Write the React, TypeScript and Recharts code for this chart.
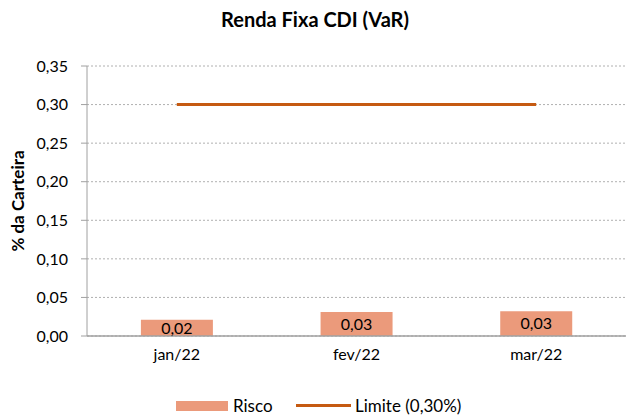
import React from 'react';
import { ComposedChart, Bar, Line, XAxis, YAxis, CartesianGrid, LabelList } from 'recharts';

const categories = ['jan/22', 'fev/22', 'mar/22'];
const risco = [0.021, 0.031, 0.032];
const limite = [0.3, 0.3, 0.3];
const yTicks = [0, 0.05, 0.1, 0.15, 0.2, 0.25, 0.3, 0.35];

const data = categories.map((c, i) => ({ name: c, risco: risco[i], limite: limite[i] }));

const FONT = 'Lato, "Open Sans", sans-serif';
const fmt = (v: number) => v.toFixed(2).replace('.', ',');

export default function App() {
  return (
    <div style={{ position: 'absolute', left: 0, top: 0, width: 626, height: 419, background: '#fff', fontFamily: FONT }}>
      <div style={{ position: 'absolute', left: 0, width: 630, top: 7, textAlign: 'center', fontWeight: 'bold', fontSize: 20, color: '#000' }}>
        Renda Fixa CDI (VaR)
      </div>
      <ComposedChart width={626} height={419} data={data} margin={{ top: 66, right: 0, bottom: 53, left: 30 }} barCategoryGap="30%">
        <CartesianGrid vertical={false} stroke="#b0b0b0" strokeDasharray="2 2" />
        <XAxis dataKey="name" tickLine={false} tickSize={0} tickMargin={13} axisLine={{ stroke: '#a0a0a0', strokeWidth: 1.5 }} tick={{ fill: '#000', fontSize: 16, fontFamily: FONT }} />
        <YAxis width={57} domain={[0, 0.35]} ticks={yTicks} tickFormatter={fmt} tickSize={6} tickMargin={13} axisLine={{ stroke: '#a0a0a0' }} tickLine={{ stroke: '#a0a0a0' }} tick={{ fill: '#000', fontSize: 16, fontFamily: FONT }}
          label={{ value: '% da Carteira', angle: -90, position: 'insideLeft', offset: -12, style: { fontWeight: 'bold', fontSize: 17, fill: '#000', fontFamily: FONT, textAnchor: 'middle' } }} />
        <Bar dataKey="risco" fill="#EB9A7B" isAnimationActive={false}>
          <LabelList dataKey="risco" position="center" formatter={(v: any) => fmt(Number(v))} style={{ fill: '#000', fontSize: 16, fontFamily: FONT }} />
        </Bar>
        <Line dataKey="limite" stroke="#C55A11" strokeWidth={3} dot={false} isAnimationActive={false} />
      </ComposedChart>
      <div style={{ position: 'absolute', top: 396, left: 0, width: 626, height: 20, fontSize: 17, color: '#000' }}>
        <div style={{ position: 'absolute', left: 176, top: 5, width: 52, height: 10, background: '#EB9A7B' }} />
        <div style={{ position: 'absolute', left: 233, top: 0, lineHeight: '20px' }}>Risco</div>
        <div style={{ position: 'absolute', left: 296, top: 8, width: 55, height: 3, background: '#C55A11' }} />
        <div style={{ position: 'absolute', left: 355, top: 0, lineHeight: '20px' }}>Limite (0,30%)</div>
      </div>
    </div>
  );
}
